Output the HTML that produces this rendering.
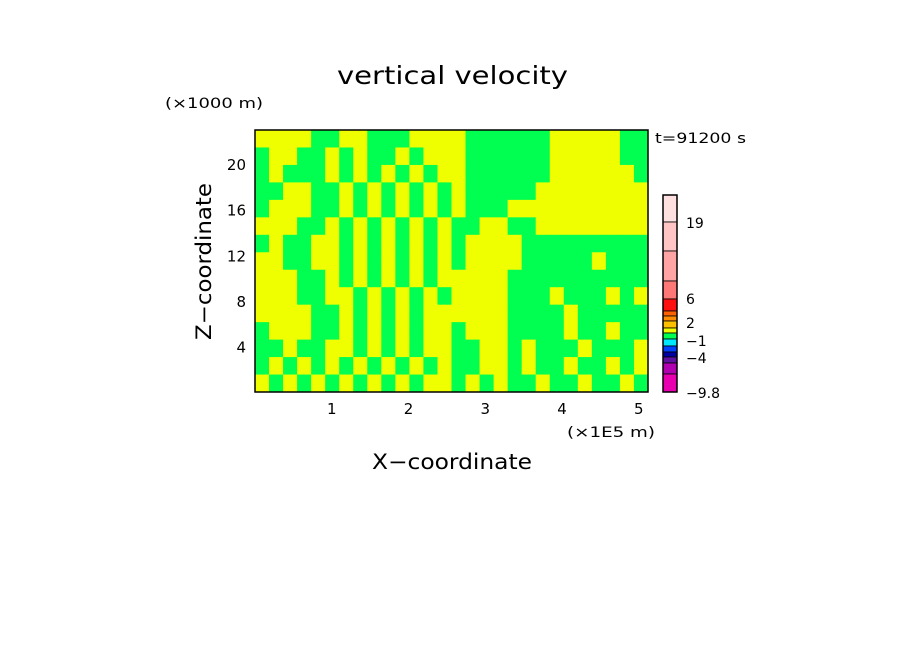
<!DOCTYPE html>
<html><head><meta charset="utf-8"><style>
body{margin:0;background:#fff;}
svg{display:block;font-family:"DejaVu Sans","Liberation Sans",sans-serif;}
</style></head><body>
<svg id="chart" width="904" height="654">
<text x="337" y="84" font-size="25" textLength="231" lengthAdjust="spacingAndGlyphs">vertical velocity</text>
<text x="165" y="108" font-size="14" textLength="98" lengthAdjust="spacingAndGlyphs">(×1000 m)</text>
<text x="655" y="143" font-size="14" textLength="91" lengthAdjust="spacingAndGlyphs">t=91200 s</text>
<text x="567" y="437" font-size="14" textLength="88" lengthAdjust="spacingAndGlyphs">(×1E5 m)</text>
<text x="372" y="469" font-size="21" textLength="160" lengthAdjust="spacingAndGlyphs">X−coordinate</text>
<text x="0" y="0" font-size="21" textLength="157" lengthAdjust="spacingAndGlyphs" transform="translate(211,340) rotate(-90)">Z−coordinate</text>
<g id="field"></g>
<rect x="255" y="130" width="393" height="262" fill="none" stroke="#000" stroke-width="1.5"/>
<g id="xt"></g>
<g id="yt"></g>
<g id="cbar"></g>
</svg>
<script>
const xTicks=[1,2,3,4,5];
const yTicks=[4,8,12,16,20];
const fieldRows=[
"YYYYGGYYGGGYYYYGGGGGGYYYYYGG",
"GYYGGYGYGGYGYYYGGGGGGYYYYYGG",
"GYGGGYGYGYGYGYYGGGGGGYYYYYYG",
"GGYYGGYGYGYGYGYGGGGGYYYYYYYY",
"GYYYGGYGYGYGYGYGGGYYYYYYYYYY",
"YYYGGYGYGYGYGYGGYYGGYYYYYYYY",
"GYGGYYGYGYGYGYGYYYYGGGGGGGGG",
"YYGGYYGYGYGYGYGYYYYGGGGGYGGG",
"YYYGGYGYGYGYGYYYYYGGGGGGGGGG",
"YYYGGYYGYGYGYGYYYYGGGYGGGYGY",
"YYYYGGYGYGYGYYYYYYGGGGYGGGGG",
"GYYYGGYGYGYGYYGYYYGGGGYGGYGG",
"GGYGGYYGYGYGYYGGYYGYGGGYGGGY",
"GYGYGYGYGYGYGYGGYYGYGGYGGYGY",
"YGYGYGYGYGYGYYGYGYGGYGGYGGYG"];
const cbColors=["#ffe0e0","#ffc4c4","#ffa4a4","#ff7878","#ff1010","#ff6000","#ff8c00","#ffc000","#f0ff00","#00ff50","#00e8ff","#0040ff","#0000a0","#6010a0","#b000b0","#e800b0"];
const cbEdges=[195,222,251,281,299,311,316,321,328,333,339,346,352,357,363,374,392];
const cbLabels=["19","6","2","−1","−4","−9.8"];
const cbLabelY=[222,298,322,340,357,392];
const NS="http://www.w3.org/2000/svg";
const X0=255,X1=648,Y0=392,Y1=130,XMAX=5.12,ZMAX=23;
const sx=v=>X0+v/XMAX*(X1-X0), sy=v=>Y0-v/ZMAX*(Y0-Y1);
const f=document.getElementById('field');
const nr=fieldRows.length,nc=fieldRows[0].length,cw=(X1-X0)/nc,ch=(Y0-Y1)/nr;
fieldRows.forEach((row,r)=>{[...row].forEach((c,k)=>{
 const e=document.createElementNS(NS,'rect');
 e.setAttribute('x',X0+k*cw);e.setAttribute('y',Y1+r*ch);
 e.setAttribute('width',cw+0.5);e.setAttribute('height',ch+0.5);
 e.setAttribute('fill',c==='G'?'#00ff50':'#f0ff00');
 
 
 f.appendChild(e);});});
const xt=document.getElementById('xt');
xTicks.forEach(v=>{const t=document.createElementNS(NS,'text');
 t.setAttribute('x',sx(v));t.setAttribute('y',414);t.setAttribute('font-size','15');t.setAttribute('text-anchor','middle');
 t.textContent=v;
 
 
 xt.appendChild(t);});
const yt=document.getElementById('yt');
yTicks.forEach(v=>{const t=document.createElementNS(NS,'text');
 t.setAttribute('x',246);t.setAttribute('y',sy(v)+6);t.setAttribute('font-size','15');t.setAttribute('text-anchor','end');
 t.textContent=v;
 
 
 yt.appendChild(t);});
const cb=document.getElementById('cbar');
cbColors.forEach((c,i)=>{const e=document.createElementNS(NS,'rect');
 e.setAttribute('x',663);e.setAttribute('y',cbEdges[i]);e.setAttribute('width',14);e.setAttribute('height',cbEdges[i+1]-cbEdges[i]);
 e.setAttribute('fill',c);e.setAttribute('stroke','#000');e.setAttribute('stroke-width','0.8');
 
 
 cb.appendChild(e);});
const fr=document.createElementNS(NS,'rect');
fr.setAttribute('x',663);fr.setAttribute('y',195);fr.setAttribute('width',14);fr.setAttribute('height',197);
fr.setAttribute('fill','none');fr.setAttribute('stroke','#000');fr.setAttribute('stroke-width','1.5');


cb.appendChild(fr);
cbLabels.forEach((l,i)=>{const t=document.createElementNS(NS,'text');
 t.setAttribute('x',686);t.setAttribute('y',cbLabelY[i]+6);t.setAttribute('font-size','14');
 t.textContent=l;
 
 
 cb.appendChild(t);});
</script>
</body></html>
